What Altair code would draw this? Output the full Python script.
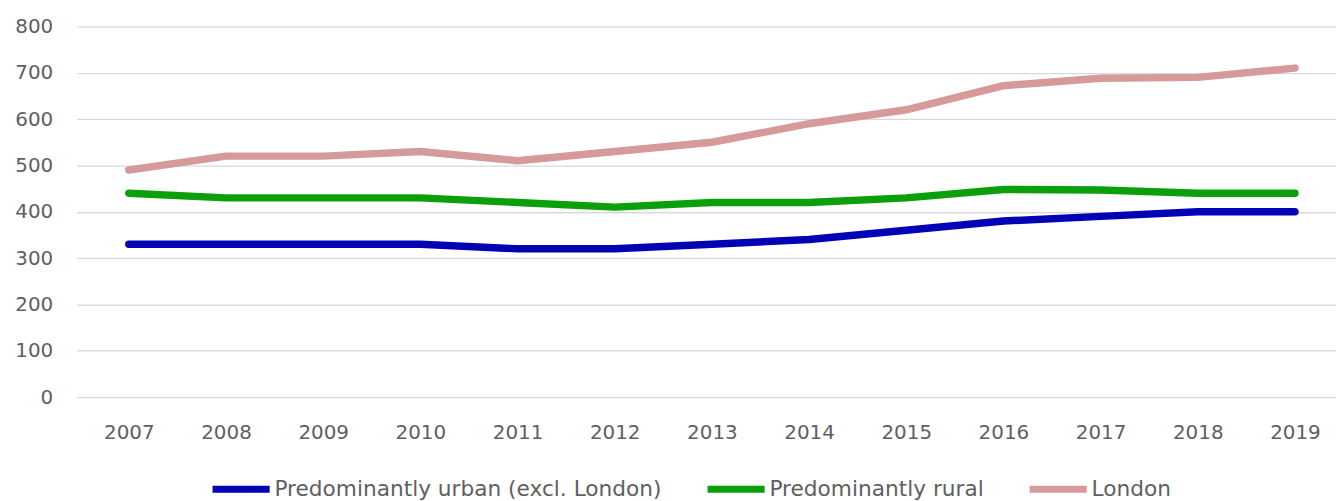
import altair as alt
import pandas as pd

years = ["2007", "2008", "2009", "2010", "2011", "2012", "2013", "2014", "2015", "2016", "2017", "2018", "2019"]
urban = [330, 330, 330, 330, 320, 320, 330, 340, 360, 380, 390, 400, 400]
rural = [440, 430, 430, 430, 420, 410, 420, 420, 430, 448, 447, 440, 440]
london = [490, 520, 520, 530, 510, 530, 550, 590, 620, 672, 688, 690, 710]

series_names = ["Predominantly urban (excl. London)", "Predominantly rural", "London"]
series_colors = ["#0303B5", "#0BA00B", "#D69A9A"]

rows = []
for name, vals in zip(series_names, [urban, rural, london]):
    for y, v in zip(years, vals):
        rows.append({"year": y, "value": v, "series": name})
df = pd.DataFrame(rows)

FONT = "DejaVu Sans"
GREY = "#606060"

chart = alt.Chart(df).mark_line(strokeWidth=7.5, strokeCap="round", strokeJoin="round").encode(
    x=alt.X("year:O", sort=years, title=None,
            scale=alt.Scale(type="point", padding=0.48, align=0.56),
            axis=alt.Axis(labelAngle=0, domain=False, ticks=False, labelFontSize=20,
                          labelColor=GREY, labelFont=FONT, labelPadding=26, grid=False)),
    y=alt.Y("value:Q", title=None,
            scale=alt.Scale(domain=[0, 800], nice=False),
            axis=alt.Axis(values=[0, 100, 200, 300, 400, 500, 600, 700, 800], domain=False, ticks=False,
                          labelFontSize=20, labelColor=GREY, labelFont=FONT, labelPadding=24,
                          gridColor="#D9D9D9", gridWidth=1.3)),
    color=alt.Color("series:N", sort=series_names,
                    scale=alt.Scale(domain=series_names, range=series_colors),
                    legend=alt.Legend(title=None, orient="none", direction="horizontal",
                                      legendX=133, legendY=433, labelLimit=600,
                                      symbolType="stroke", symbolSize=3300, symbolStrokeWidth=7,
                                      labelFontSize=21.8, labelFont=FONT, labelColor=GREY,
                                      labelOffset=1, columnPadding=31, symbolOffset=0)),
    order=alt.Order("series:N"),
).properties(
    width=1267, height=373,
    background="white",
    autosize=alt.AutoSizeParams(type="none"),
    padding={"left": 69, "top": 17, "right": 0, "bottom": 103},
).configure_view(strokeWidth=0, stroke="transparent")

chart.save("out.html", embed_options={"renderer": "svg", "actions": False})
